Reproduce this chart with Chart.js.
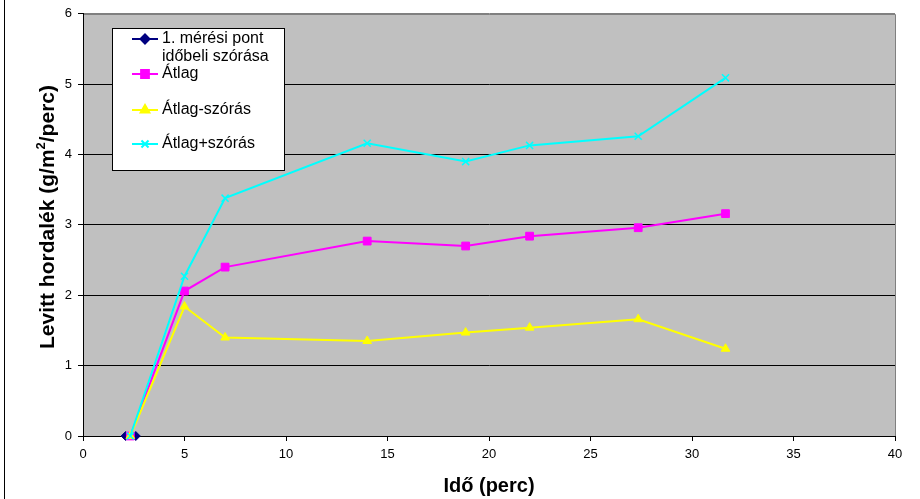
<!DOCTYPE html>
<html>
<head>
<meta charset="utf-8">
<script src="https://cdn.jsdelivr.net/npm/chart.js@4.4.0/dist/chart.umd.min.js"></script>
<style>
  html, body { margin: 0; padding: 0; background: #fff; }
</style>
</head>
<body>
<canvas id="chart" width="920" height="499"></canvas>
<script>
// Data
const pointTimes = [2.1, 2.6];
const pointValues = [0, 0];
const times = [2.33, 5, 7, 14, 18.85, 22, 27.35, 31.65];
const mean = [0, 2.06, 2.40, 2.77, 2.70, 2.84, 2.96, 3.16];
const meanMinusSd = [0, 1.84, 1.40, 1.35, 1.47, 1.54, 1.66, 1.24];
const meanPlusSd = [0, 2.27, 3.38, 4.16, 3.90, 4.13, 4.26, 5.09];
const legendLabels = [['1. mérési pont', 'időbeli szórása'], ['Átlag'], ['Átlag-szórás'], ['Átlag+szórás']];
const xTitle = 'Idő (perc)';
const yTitleParts = ['Levitt hordalék (g/m', '2', '/perc)'];

const FONT = '"Liberation Sans", Arial, sans-serif';

function toPoints(xs, ys) {
  return xs.map((x, i) => ({ x: x, y: ys[i] }));
}

// Grey plot area, frame, legend box and y title
const excelLook = {
  id: 'excelLook',
  beforeDraw(chart) {
    const { ctx, chartArea: a } = chart;
    ctx.save();
    ctx.fillStyle = '#C0C0C0';
    ctx.fillRect(a.left, a.top, a.right - a.left, a.bottom - a.top);
    ctx.strokeStyle = '#808080';
    ctx.lineWidth = 1;
    ctx.beginPath();
    ctx.moveTo(a.left, Math.round(a.top) + 0.5);
    ctx.lineTo(Math.round(a.right) + 0.5, Math.round(a.top) + 0.5);
    ctx.lineTo(Math.round(a.right) + 0.5, a.bottom);
    ctx.stroke();
    // outer chart frame (left edge is what shows)
    ctx.strokeStyle = '#000';
    ctx.beginPath();
    ctx.moveTo(4.5, 0);
    ctx.lineTo(4.5, 499);
    ctx.stroke();
    ctx.restore();
  },
  afterDraw(chart) {
    const ctx = chart.ctx;
    ctx.save();

    // legend
    const bx = 112.5, by = 28.5, bw = 172, bh = 142;
    ctx.fillStyle = '#fff';
    ctx.fillRect(bx, by, bw, bh);
    ctx.strokeStyle = '#000';
    ctx.lineWidth = 1;
    ctx.strokeRect(bx, by, bw, bh);

    const rows = [39, 74, 110, 144];
    ctx.font = '16px ' + FONT;
    ctx.textBaseline = 'middle';
    ctx.textAlign = 'left';
    chart.data.datasets.forEach((ds, i) => {
      const y = rows[i];
      ctx.strokeStyle = ds.borderColor;
      ctx.lineWidth = 2;
      ctx.beginPath();
      ctx.moveTo(132, y);
      ctx.lineTo(158, y);
      ctx.stroke();
      ctx.fillStyle = ds.pointBackgroundColor;
      ctx.strokeStyle = ds.pointBorderColor;
      Chart.helpers.drawPoint(ctx, {
        pointStyle: ds.pointStyle,
        radius: ds.pointRadius,
        borderWidth: ds.pointBorderWidth,
        rotation: 0
      }, 145, y);
      ctx.fillStyle = '#000';
      legendLabels[i].forEach((line, j) => {
        ctx.fillText(line, 162, y + j * 18);
      });
    });

    // y axis title with superscript
    ctx.translate(48, 217);
    ctx.rotate(-Math.PI / 2);
    ctx.fillStyle = '#000';
    ctx.textBaseline = 'middle';
    const big = 'bold 21px ' + FONT;
    const small = 'bold 13px ' + FONT;
    ctx.font = big;
    const w0 = ctx.measureText(yTitleParts[0]).width;
    const w2 = ctx.measureText(yTitleParts[2]).width;
    ctx.font = small;
    const w1 = ctx.measureText(yTitleParts[1]).width;
    let x = -(w0 + w1 + w2) / 2;
    ctx.font = big;
    ctx.fillText(yTitleParts[0], x, 0);
    x += w0;
    ctx.font = small;
    ctx.fillText(yTitleParts[1], x, -7);
    x += w1;
    ctx.font = big;
    ctx.fillText(yTitleParts[2], x, 0);

    ctx.restore();
  }
};

const ctx = document.getElementById('chart').getContext('2d');
new Chart(ctx, {
  type: 'line',
  data: {
    datasets: [
      {
        label: legendLabels[0].join(' '),
        data: toPoints(pointTimes, pointValues),
        order: 3,
        borderColor: '#000080',
        backgroundColor: '#000080',
        pointBackgroundColor: '#000080',
        pointBorderColor: '#000080',
        pointStyle: 'rectRot',
        pointRadius: 4.5,
        pointBorderWidth: 1,
        borderWidth: 2
      },
      {
        label: legendLabels[1][0],
        data: toPoints(times, mean),
        order: 2,
        borderColor: '#FF00FF',
        backgroundColor: '#FF00FF',
        pointBackgroundColor: '#FF00FF',
        pointBorderColor: '#FF00FF',
        pointStyle: 'rect',
        pointRadius: 5.5,
        pointBorderWidth: 1,
        borderWidth: 2
      },
      {
        label: legendLabels[2][0],
        data: toPoints(times, meanMinusSd),
        order: 1,
        borderColor: '#FFFF00',
        backgroundColor: '#FFFF00',
        pointBackgroundColor: '#FFFF00',
        pointBorderColor: '#FFFF00',
        pointStyle: 'triangle',
        pointRadius: 5,
        pointBorderWidth: 1,
        borderWidth: 2
      },
      {
        label: legendLabels[3][0],
        data: toPoints(times, meanPlusSd),
        order: 0,
        borderColor: '#00FFFF',
        backgroundColor: '#00FFFF',
        pointBackgroundColor: '#00FFFF',
        pointBorderColor: '#00FFFF',
        pointStyle: 'crossRot',
        pointRadius: 5,
        pointBorderWidth: 1.5,
        borderWidth: 2
      }
    ]
  },
  options: {
    responsive: false,
    animation: false,
    devicePixelRatio: 1,
    clip: false,
    layout: {
      padding: { top: 13, right: 25, left: 0, bottom: 0 }
    },
    elements: {
      line: { tension: 0 }
    },
    scales: {
      x: {
        type: 'linear',
        min: 0,
        max: 40,
        afterFit: (scale) => { scale.height = 63; },
        ticks: {
          stepSize: 5,
          color: '#000',
          padding: 6,
          maxRotation: 0,
          font: { family: FONT, size: 13 }
        },
        grid: {
          drawOnChartArea: false,
          drawTicks: true,
          tickLength: 5,
          tickColor: '#000'
        },
        border: { color: '#000', width: 1 },
        title: {
          display: true,
          text: xTitle,
          color: '#000',
          font: { family: FONT, size: 20, weight: 'bold' },
          padding: { top: 0, bottom: 1 }
        }
      },
      y: {
        min: 0,
        max: 6,
        afterFit: (scale) => { scale.width = 83; },
        ticks: {
          stepSize: 1,
          color: '#000',
          padding: 6,
          font: { family: FONT, size: 13 }
        },
        grid: {
          color: (c) => (c.tick && c.tick.value === 6 ? '#808080' : '#000'),
          tickColor: '#000',
          tickLength: 5,
          lineWidth: 1
        },
        border: { color: '#000', width: 1 }
      }
    },
    plugins: {
      legend: { display: false },
      tooltip: { enabled: false }
    }
  },
  plugins: [excelLook]
});
</script>
</body>
</html>
